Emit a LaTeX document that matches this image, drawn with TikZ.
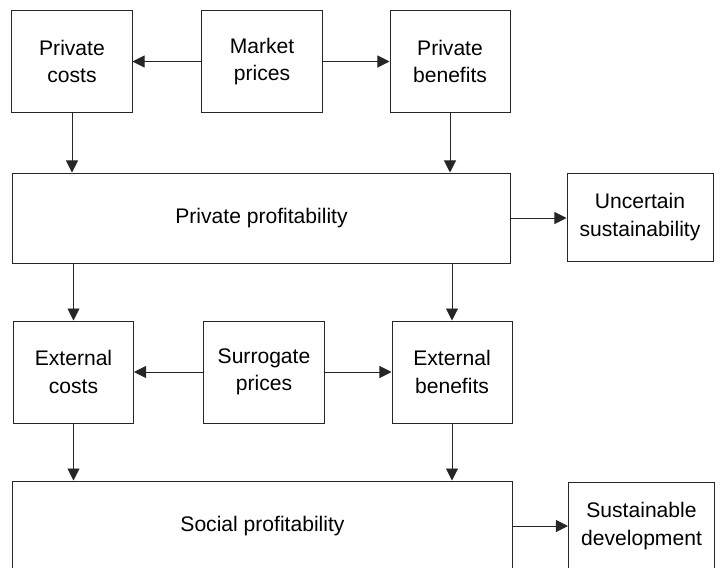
\documentclass[tikz,border=0pt]{standalone}
\usepackage{fontspec}
\setmainfont{Liberation Sans}
\usetikzlibrary{positioning, arrows.meta}

\begin{document}
\begin{tikzpicture}[
        x=0.025cm, y=-0.025cm,
        font=\fontsize{15}{19.5}\selectfont,
        >={Triangle[length=0.3cm, width=0.3cm]},
        link/.style={->, line width=0.7pt, black!85},
        small_box/.style={draw=black!85, line width=0.7pt, align=center, minimum width=3cm, minimum height=2.55cm, inner sep=0pt},
        wide_box/.style={draw=black!85, line width=0.7pt, align=center, minimum width=12.45cm, minimum height=2.25cm, inner sep=0pt},
        end_box/.style={draw=black!85, line width=0.7pt, align=center, minimum width=3.65cm, minimum height=2.2cm, inner sep=0pt}
    ]

    \useasboundingbox (0,0) rectangle (720,567);
    \clip (0,0) rectangle (720,567);

    % ========================================================
    % 1. PRIVATE LEVEL
    % ========================================================
    \node[small_box] (pcosts) at (72, 61.5) {Private\\costs};
    \node[small_box] (market) at (262, 61.5) {Market\\prices};
    \node[small_box] (pbenefits) at (450, 61.5) {Private\\benefits};

    \node[wide_box] (pprofit) at (261.5, 218) {Private profitability};
    \node[end_box] (uncertain) at (640, 217) {Uncertain\\sustainability};

    % Arrows from market prices
    \draw[link] (market.west) -- (pcosts.east);
    \draw[link] (market.east) -- (pbenefits.west);

    % Arrows down to private profitability
    \draw[link] (pcosts.south) -- (pcosts.south |- pprofit.north);
    \draw[link] (pbenefits.south) -- (pbenefits.south |- pprofit.north);
    \draw[link] (pprofit.east) -- (pprofit.east -| uncertain.west);

    % ========================================================
    % 2. EXTERNAL LEVEL
    % ========================================================
    \node[small_box] (ecosts) at (73.5, 372) {External\\costs};
    \node[small_box] (surrogate) at (264, 372) {Surrogate\\prices};
    \node[small_box] (ebenefits) at (452, 372) {External\\benefits};

    \draw[link] (ecosts.north |- pprofit.south) -- (ecosts.north);
    \draw[link] (ebenefits.north |- pprofit.south) -- (ebenefits.north);

    \draw[link] (surrogate.west) -- (ecosts.east);
    \draw[link] (surrogate.east) -- (ebenefits.west);

    % ========================================================
    % 3. SOCIAL LEVEL
    % ========================================================
    \node[wide_box, minimum width=12.475cm] (sprofit) at (262.5, 526) {Social profitability};
    \node[end_box] (sustain) at (641.5, 526) {Sustainable\\development};

    \draw[link] (ecosts.south) -- (ecosts.south |- sprofit.north);
    \draw[link] (ebenefits.south) -- (ebenefits.south |- sprofit.north);
    \draw[link] (sprofit.east) -- (sprofit.east -| sustain.west);

\end{tikzpicture}
\end{document}
